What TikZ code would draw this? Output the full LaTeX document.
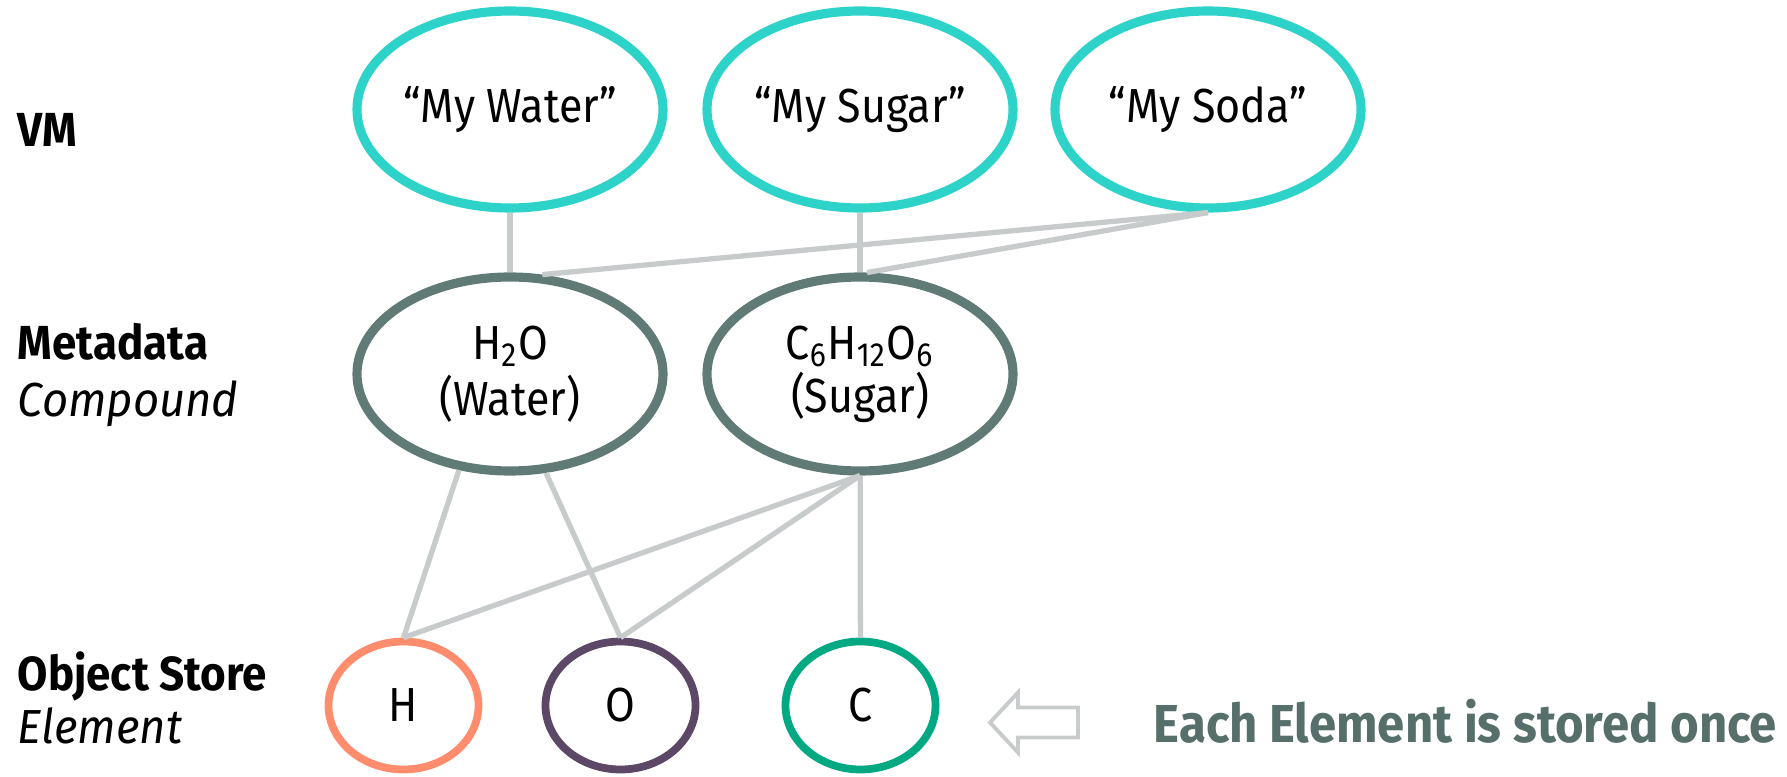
\documentclass[tikz,border=0pt]{standalone}
\usepackage{fontspec}
\setmainfont{Fira Sans}[FakeStretch=0.9,BoldFeatures={FakeStretch=0.92},
  ItalicFeatures={FakeStretch=0.95}]
\usetikzlibrary{shapes.geometric,positioning}
\definecolor{vmteal}{RGB}{45,210,200}
\definecolor{metagrey}{RGB}{96,123,118}
\definecolor{linkgrey}{RGB}{200,203,203}
\definecolor{hsalmon}{RGB}{255,141,109}
\definecolor{opurple}{RGB}{92,71,102}
\definecolor{cgreen}{RGB}{1,169,130}
\tikzset{
  vm/.style={ellipse,draw=vmteal,line width=2.6pt,minimum width=3.06cm,
    minimum height=1.97cm,inner sep=0pt,font=\fontsize{13.6}{15}\selectfont},
  compound/.style={vm,draw=metagrey,align=center,minimum height=1.94cm,
    font=\fontsize{13.6}{15}\selectfont},
  element/.style={ellipse,line width=2.2pt,minimum width=1.5cm,minimum height=1.28cm,
    inner sep=0pt,font=\fontsize{13.6}{15}\selectfont},
  link/.style={linkgrey,line width=1.5pt},
  layer/.style={anchor=base west,inner sep=0pt,font=\fontsize{13.6}{15}\selectfont\bfseries},
  kind/.style={anchor=base west,inner sep=0pt,font=\fontsize{13.6}{15}\selectfont\itshape}
}

\begin{document}
\begin{tikzpicture}
\useasboundingbox (0,0) rectangle (17.87,-7.77);

% layer names
\node[layer] (vmlab) at (0.17,-1.47) {VM};
\node[layer] (metalab) at (0.17,-3.60) {Metadata};
\node[kind] (complab) at (0.17,-4.16) {Compound};
\node[layer] (storelab) at (0.17,-6.90) {Object Store};
\node[kind] (elemlab) at (0.17,-7.43) {Element};

% VM
\node[vm] (water) at (5.10,-1.095) {“My Water”};
\node[vm] (sugar) at (8.60,-1.095) {“My Sugar”};
\node[vm] (soda) at (12.08,-1.095) {“My Soda”};

% compounds
\node[compound] (h2o) at (5.10,-3.74) {H\textsubscript{2}O\\[1pt](Water)};
\node[compound] (c6) at (8.60,-3.74) {C\textsubscript{6}H\textsubscript{12}O\textsubscript{6}\\(Sugar)};

% elements
\node[element,draw=hsalmon] (H) at (4.035,-7.055) {H};
\node[element,draw=opurple] (O) at (6.205,-7.055) {O};
\node[element,draw=cgreen] (C) at (8.605,-7.055) {C};

% links
\draw[link] (water) -- (h2o);
\draw[link] (sugar) -- (c6);
\draw[link] (soda.south) -- (h2o.72);
\draw[link] (soda.south) -- (c6.86);
\draw[link] (h2o.242) -- (H.north);
\draw[link] (h2o.290) -- (O.north);
\draw[link] (c6.south) -- (H.north);
\draw[link] (c6.south) -- (O.north);
\draw[link] (c6) -- (C);

% hollow arrow
\coordinate (tip) at (9.90,-7.225);
\draw[linkgrey,line width=1.1pt,line join=miter] (tip) -- ++(0.28,0.30) -- ++(0,-0.15)
  -- ++(0.60,0) -- ++(0,-0.30) -- ++(-0.60,0) -- ++(0,-0.15) -- cycle;

\node[anchor=base west,inner sep=0pt,text=metagrey!90!black,
  font=\fontsize{15.2}{17}\selectfont\bfseries] (note) at (11.53,-7.42)
  {Each Element is stored once};
\end{tikzpicture}
\end{document}
